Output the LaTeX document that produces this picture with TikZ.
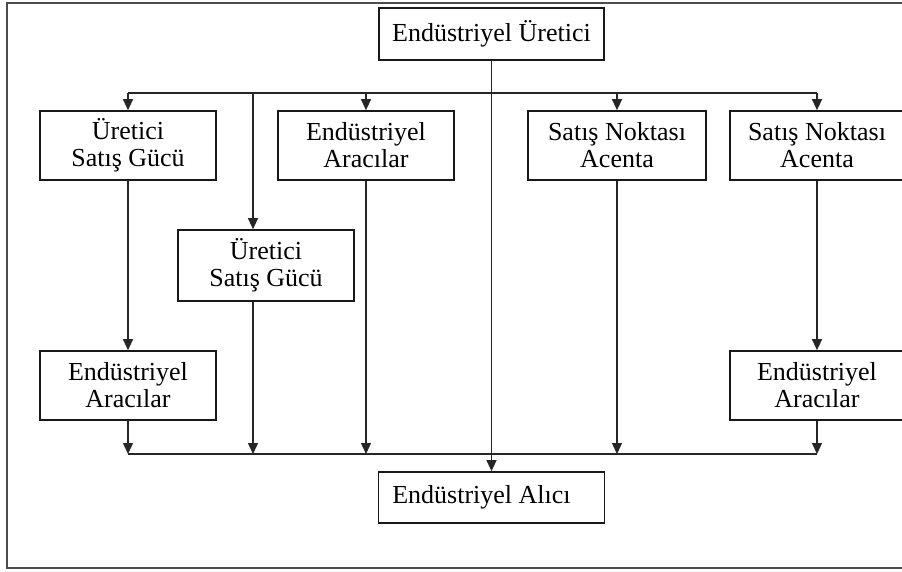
\documentclass[tikz,border=0pt]{standalone}
\usepackage{fontspec}
\setmainfont{Liberation Serif}
\usetikzlibrary{arrows.meta}
\begin{document}
\begin{tikzpicture}[x=1pt, y=-1pt,
  box/.style={draw=black!90, line width=1.7pt, inner sep=0pt, align=center,
    font=\fontsize{26}{27}\selectfont},
  conn/.style={draw=black!85, line width=1.3pt},
  arr/.style={conn, -{Triangle[length=11pt,width=10pt]}},
  frame/.style={draw=black!70, line width=2pt}]
\useasboundingbox (0,0) rectangle (902,572);

% outer frame
\draw[frame] (920,3) -- (7,3) -- (7,568) -- (920,568);

% boxes
\node[box, minimum width=225, minimum height=52] (top) at (491.5,34) {Endüstriyel Üretici};
\node[box, minimum width=176, minimum height=69] (A) at (128,145.5) {Üretici\\Satış Gücü};
\node[box, minimum width=176, minimum height=69] (B) at (366,145.5) {Endüstriyel\\Aracılar};
\node[box, minimum width=178, minimum height=69] (C) at (617,145.5) {Satış Noktası\\Acenta};
\node[box, minimum width=174, minimum height=69] (D) at (817,145.5) {Satış Noktası\\Acenta};
\node[box, minimum width=176, minimum height=71] (E) at (266,265.5) {Üretici\\Satış Gücü};
\node[box, minimum width=176, minimum height=69] (F) at (128,385.5) {Endüstriyel\\Aracılar};
\node[box, minimum width=174, minimum height=69] (G) at (817,385.5) {Endüstriyel\\Aracılar};
\node[box, minimum width=226, minimum height=51] (H) at (491.5,497.5) {Endüstriyel Alıcı\hspace*{20pt}};

% distribution and collection buses
\coordinate (upL) at (128,93);
\coordinate (upR) at (817,93);
\coordinate (upE) at (253,93);
\coordinate (lowL) at (128,454);
\coordinate (lowR) at (817,454);
\coordinate (lowE) at (253,454);
\draw[conn] (upL) -- (upR);
\draw[conn] (lowL) -- (lowR);

% producer straight to buyer
\draw[arr] (top.south) -- (H.north);

% from the upper bus into the first-level boxes
\draw[arr] (upL) -- (A.north);
\draw[arr] (upL -| B.north) -- (B.north);
\draw[arr] (upL -| C.north) -- (C.north);
\draw[arr] (upR) -- (D.north);
\draw[arr] (upE) -- (upE |- E.north);

% intermediate steps
\draw[arr] (A.south) -- (F.north);
\draw[arr] (D.south) -- (G.north);

% into the lower bus
\draw[arr] (F.south) -- (lowL);
\draw[arr] (upE |- E.south) -- (lowE);
\draw[arr] (B.south) -- (B.south |- lowL);
\draw[arr] (C.south) -- (C.south |- lowL);
\draw[arr] (G.south) -- (lowR);
\end{tikzpicture}
\end{document}
